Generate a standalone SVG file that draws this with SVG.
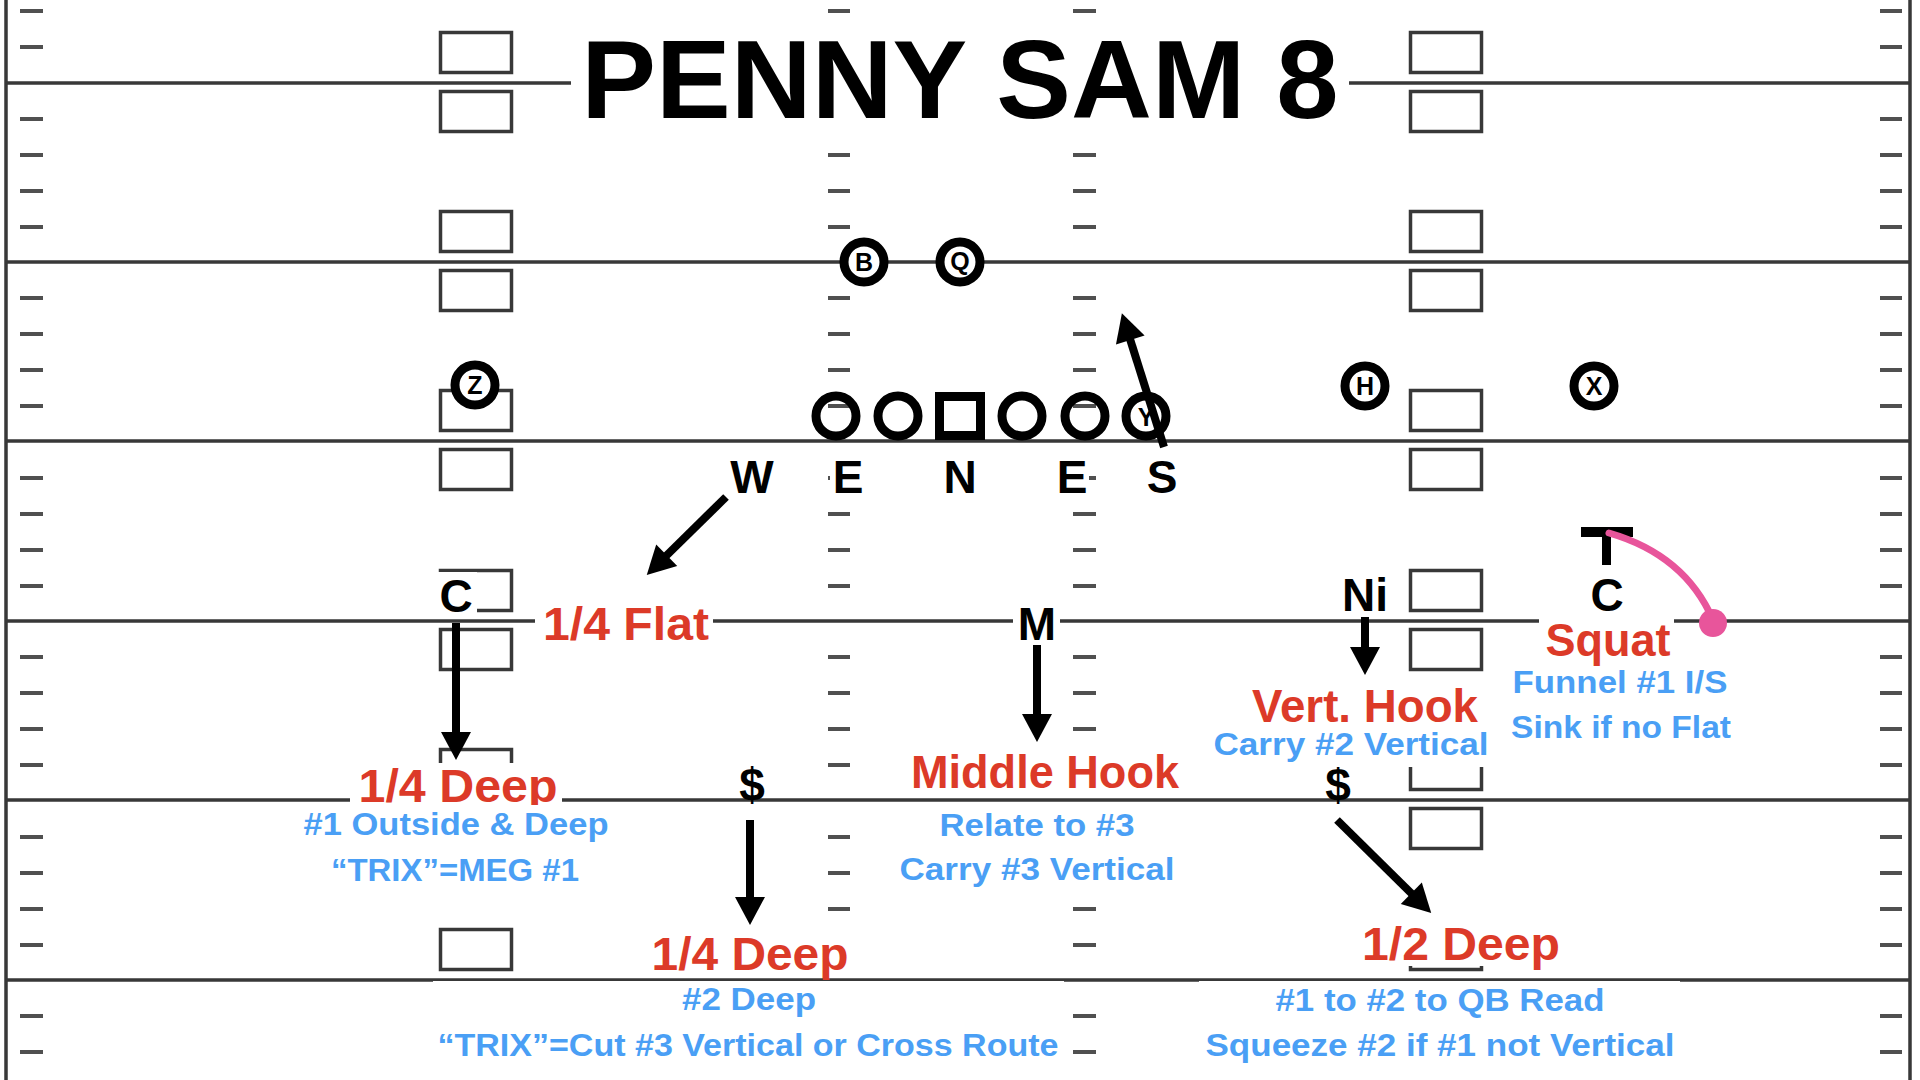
<svg xmlns="http://www.w3.org/2000/svg" width="1920" height="1080" viewBox="0 0 1920 1080">
<style>
.yl{stroke:#383838;stroke-width:3.5;fill:none}
.tk{stroke:#505050;stroke-width:4;fill:none}
.bx{fill:none;stroke:#383838;stroke-width:3.5}
.bg{fill:#fff}
.t{font-family:"Liberation Sans",Arial,sans-serif;font-weight:bold;text-anchor:middle}
.red{fill:#DC3A28;font-size:46px}
.blue{fill:#4A9FF5;font-family:"Liberation Sans",Arial,sans-serif;font-weight:bold;font-size:31px;text-anchor:middle}
.def{fill:#000;font-size:46px}
.pl{fill:#000;font-size:25px}
.ring{fill:#fff;stroke:#000;stroke-width:9}
.ol{fill:none;stroke:#000;stroke-width:9}
.arr{stroke:#000;stroke-width:8;fill:none;marker-end:url(#ah)}
</style>
<defs>
<marker id="ah" markerUnits="userSpaceOnUse" markerWidth="30" markerHeight="30" refX="1" refY="15" orient="auto" overflow="visible">
<path d="M0,0 L28,15 L0,30 z" fill="#000"/>
</marker>
</defs>
<rect width="1920" height="1080" fill="#fff"/>
<g id="field">
<path class="yl" d="M6,0 V1080 M1910,0 V1080 M6,83 H1910 M6,262 H1910 M6,441 H1910 M6,621 H1910 M6,800 H1910 M6,980 H1910"/>
<path class="tk" d="M20,11H43M1880,11H1902M828,11H850M1073,11H1096
M20,47H43M1880,47H1902M828,47H850M1073,47H1096
M20,119H43M1880,119H1902M828,119H850M1073,119H1096
M20,155H43M1880,155H1902M828,155H850M1073,155H1096
M20,191H43M1880,191H1902M828,191H850M1073,191H1096
M20,227H43M1880,227H1902M828,227H850M1073,227H1096
M20,298H43M1880,298H1902M828,298H850M1073,298H1096
M20,334H43M1880,334H1902M828,334H850M1073,334H1096
M20,370H43M1880,370H1902M828,370H850M1073,370H1096
M20,406H43M1880,406H1902M828,406H850M1073,406H1096
M20,478H43M1880,478H1902M828,478H850M1073,478H1096
M20,514H43M1880,514H1902M828,514H850M1073,514H1096
M20,550H43M1880,550H1902M828,550H850M1073,550H1096
M20,586H43M1880,586H1902M828,586H850M1073,586H1096
M20,657H43M1880,657H1902M828,657H850M1073,657H1096
M20,693H43M1880,693H1902M828,693H850M1073,693H1096
M20,729H43M1880,729H1902M828,729H850M1073,729H1096
M20,765H43M1880,765H1902M828,765H850M1073,765H1096
M20,837H43M1880,837H1902M828,837H850M1073,837H1096
M20,873H43M1880,873H1902M828,873H850M1073,873H1096
M20,909H43M1880,909H1902M828,909H850M1073,909H1096
M20,945H43M1880,945H1902M828,945H850M1073,945H1096
M20,1016H43M1880,1016H1902M828,1016H850M1073,1016H1096
M20,1052H43M1880,1052H1902M828,1052H850M1073,1052H1096"/>
<g>
<rect class="bx" x="440.5" y="32.5" width="71" height="40"/><rect class="bx" x="440.5" y="91.5" width="71" height="40"/>
<rect class="bx" x="440.5" y="211.5" width="71" height="40"/><rect class="bx" x="440.5" y="270.5" width="71" height="40"/>
<rect class="bx" x="440.5" y="390.5" width="71" height="40"/><rect class="bx" x="440.5" y="449.5" width="71" height="40"/>
<rect class="bx" x="440.5" y="570.5" width="71" height="40"/><rect class="bx" x="440.5" y="629.5" width="71" height="40"/>
<rect class="bx" x="440.5" y="749.5" width="71" height="40"/><rect class="bx" x="440.5" y="808.5" width="71" height="40"/>
<rect class="bx" x="440.5" y="929.5" width="71" height="40"/><rect class="bx" x="440.5" y="988.5" width="71" height="40"/>
<rect class="bx" x="1410.5" y="32.5" width="71" height="40"/><rect class="bx" x="1410.5" y="91.5" width="71" height="40"/>
<rect class="bx" x="1410.5" y="211.5" width="71" height="40"/><rect class="bx" x="1410.5" y="270.5" width="71" height="40"/>
<rect class="bx" x="1410.5" y="390.5" width="71" height="40"/><rect class="bx" x="1410.5" y="449.5" width="71" height="40"/>
<rect class="bx" x="1410.5" y="570.5" width="71" height="40"/><rect class="bx" x="1410.5" y="629.5" width="71" height="40"/>
<rect class="bx" x="1410.5" y="749.5" width="71" height="40"/><rect class="bx" x="1410.5" y="808.5" width="71" height="40"/>
<rect class="bx" x="1410.5" y="929.5" width="71" height="40"/><rect class="bx" x="1410.5" y="988.5" width="71" height="40"/>
</g>
</g>
<g id="title">
<rect class="bg" x="571" y="28" width="778" height="107"/>
<text class="t" x="960" y="118" font-size="112">PENNY SAM 8</text>
</g>
<g id="offense">
<g id="B"><circle class="ring" cx="864" cy="262" r="20"/><text class="t pl" x="864" y="271">B</text></g>
<g id="Q"><circle class="ring" cx="960" cy="262" r="20"/><text class="t pl" x="960" y="270">Q</text></g>
<g id="Z"><circle class="ring" cx="475" cy="385" r="20"/><text class="t pl" x="475" y="394">Z</text></g>
<g id="H"><circle class="ring" cx="1365" cy="386" r="20"/><text class="t pl" x="1365" y="395">H</text></g>
<g id="X"><circle class="ring" cx="1594" cy="386" r="20"/><text class="t pl" x="1594" y="395">X</text></g>
<g id="oline">
<circle class="ol" cx="836" cy="416" r="20"/>
<circle class="ol" cx="898" cy="416" r="20"/>
<rect class="ol" x="939.5" y="396.5" width="41" height="39"/>
<circle class="ol" cx="1022" cy="416" r="20"/>
<circle class="ol" cx="1085" cy="416" r="20"/>
</g>
<g id="Y"><circle class="ol" cx="1146" cy="416" r="20"/><text class="t pl" x="1146" y="426" font-size="23">Y</text></g>
</g>
<g id="defense">
<g id="W"><text class="t def" x="752" y="493">W</text></g>
<g id="E1"><rect class="bg" x="830" y="455" width="36" height="44"/><text class="t def" x="848" y="493">E</text></g>
<g id="N"><text class="t def" x="960" y="493">N</text></g>
<g id="E2"><rect class="bg" x="1054" y="455" width="35" height="44"/><text class="t def" x="1072" y="493">E</text></g>
<g id="S"><text class="t def" x="1162" y="493">S</text></g>
<g id="M"><rect class="bg" x="1013" y="598" width="47" height="47"/><text class="t def" x="1037" y="640" font-size="44">M</text></g>
<g id="C-left"><rect class="bg" x="436" y="572" width="41" height="47"/><text class="t def" x="456" y="612" font-size="44">C</text></g>
<g id="Ni"><text class="t def" x="1365" y="611" font-size="44">Ni</text></g>
<g id="C-right"><text class="t def" x="1607" y="611" font-size="44">C</text>
<rect x="1581" y="527" width="52" height="10" fill="#000"/><rect x="1602" y="527" width="9" height="38" fill="#000"/></g>
<g id="dollar-mid"><text class="t def" x="752" y="801" font-size="42">$</text></g>
<g id="dollar-right"><text class="t def" x="1338" y="801" font-size="42">$</text></g>
</g>
<g id="labels">
<g id="flat"><rect class="bg" x="535" y="598" width="178" height="50"/><text class="t red" x="626" y="640" textLength="166" lengthAdjust="spacingAndGlyphs">1/4 Flat</text></g>
<g id="deep-left"><rect class="bg" x="350" y="763" width="212" height="42"/><text class="t red" x="458" y="802" textLength="199" lengthAdjust="spacingAndGlyphs">1/4 Deep</text>
<rect class="bg" x="300" y="805" width="312" height="85"/>
<text class="blue" x="456" y="835" textLength="305" lengthAdjust="spacingAndGlyphs">#1 Outside &amp; Deep</text>
<text class="blue" x="455" y="881" textLength="248" lengthAdjust="spacingAndGlyphs">“TRIX”=MEG #1</text></g>
<g id="middle-hook"><rect class="bg" x="905" y="748" width="280" height="47"/><text class="t red" x="1045" y="788" textLength="268" lengthAdjust="spacingAndGlyphs">Middle Hook</text>
<rect class="bg" x="895" y="805" width="285" height="87"/>
<text class="blue" x="1037" y="836" textLength="195" lengthAdjust="spacingAndGlyphs">Relate to #3</text>
<text class="blue" x="1037" y="880" textLength="275" lengthAdjust="spacingAndGlyphs">Carry #3 Vertical</text></g>
<g id="vert-hook"><rect class="bg" x="1245" y="676" width="240" height="52"/><text class="t red" x="1365" y="722" textLength="226" lengthAdjust="spacingAndGlyphs">Vert. Hook</text>
<rect class="bg" x="1210" y="728" width="282" height="39"/>
<text class="blue" x="1351" y="755" textLength="275" lengthAdjust="spacingAndGlyphs">Carry #2 Vertical</text></g>
<g id="squat"><rect class="bg" x="1539" y="617" width="135" height="45"/><text class="t red" x="1608" y="656" textLength="125" lengthAdjust="spacingAndGlyphs">Squat</text>
<text class="blue" x="1620" y="693" textLength="215" lengthAdjust="spacingAndGlyphs">Funnel #1 I/S</text>
<text class="blue" x="1621" y="738" textLength="220" lengthAdjust="spacingAndGlyphs">Sink if no Flat</text></g>
<g id="deep-mid"><rect class="bg" x="645" y="925" width="211" height="53"/><text class="t red" x="750" y="970" textLength="197" lengthAdjust="spacingAndGlyphs">1/4 Deep</text>
<rect class="bg" x="433" y="981" width="631" height="89"/>
<text class="blue" x="749" y="1010" textLength="134" lengthAdjust="spacingAndGlyphs">#2 Deep</text>
<text class="blue" x="748" y="1056" textLength="621" lengthAdjust="spacingAndGlyphs">“TRIX”=Cut #3 Vertical or Cross Route</text></g>
<g id="half-deep"><rect class="bg" x="1355" y="915" width="212" height="51"/><text class="t red" x="1461" y="960" textLength="198" lengthAdjust="spacingAndGlyphs">1/2 Deep</text>
<rect class="bg" x="1199" y="981" width="481" height="89"/>
<text class="blue" x="1440" y="1011" textLength="329" lengthAdjust="spacingAndGlyphs">#1 to #2 to QB Read</text>
<text class="blue" x="1440" y="1056" textLength="469" lengthAdjust="spacingAndGlyphs">Squeeze #2 if #1 not Vertical</text></g>
</g>
<g id="connectors">
<path class="arr" d="M726,497 L666,556"/>
<path class="arr" d="M1164,447 L1130,339"/>
<path class="arr" d="M456,623 L456,733"/>
<path class="arr" d="M1037,645 L1037,715"/>
<path class="arr" d="M1365,617 L1365,648"/>
<path class="arr" d="M750,820 L750,898"/>
<path class="arr" d="M1337,820 L1412,894"/>
<path d="M1609,533 Q1685,555 1713,620" fill="none" stroke="#E8559B" stroke-width="7" stroke-linecap="round"/>
<circle cx="1713" cy="623" r="14" fill="#E8559B"/>
</g>
</svg>
